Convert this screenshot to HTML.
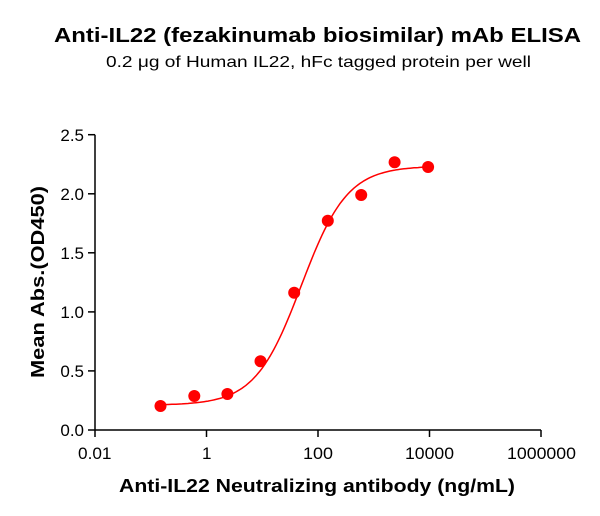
<!DOCTYPE html>
<html><head><style>
body{margin:0;background:#fff;}
svg{display:block;font-family:"Liberation Sans",Arial,sans-serif;}
</style></head><body>
<svg id="s" width="600" height="516" viewBox="0 0 600 516">
<text x="54" y="42" font-size="20" font-weight="bold" textLength="527" lengthAdjust="spacingAndGlyphs">Anti-IL22 (fezakinumab biosimilar) mAb ELISA</text>
<text x="106" y="67" font-size="16" textLength="425" lengthAdjust="spacingAndGlyphs">0.2 μg of Human IL22, hFc tagged protein per well</text>
<g stroke="#000" stroke-width="1.5" fill="none">
<line x1="95" y1="134.7" x2="95" y2="430"/>
<line x1="95" y1="430" x2="541" y2="430"/>
<line x1="88" y1="430" x2="95" y2="430"/>
<line x1="88" y1="370.9" x2="95" y2="370.9"/>
<line x1="88" y1="311.9" x2="95" y2="311.9"/>
<line x1="88" y1="252.8" x2="95" y2="252.8"/>
<line x1="88" y1="193.8" x2="95" y2="193.8"/>
<line x1="88" y1="134.7" x2="95" y2="134.7"/>
<line x1="95" y1="430" x2="95" y2="437"/>
<line x1="206.5" y1="430" x2="206.5" y2="437"/>
<line x1="318" y1="430" x2="318" y2="437"/>
<line x1="429.5" y1="430" x2="429.5" y2="437"/>
<line x1="541" y1="430" x2="541" y2="437"/>
</g>
<g font-size="17" text-anchor="end">
<text x="84" y="436">0.0</text>
<text x="84" y="377">0.5</text>
<text x="84" y="318">1.0</text>
<text x="84" y="259">1.5</text>
<text x="84" y="200">2.0</text>
<text x="84" y="141">2.5</text>
</g>
<g font-size="17">
<text x="78" y="459" textLength="33.5" lengthAdjust="spacingAndGlyphs">0.01</text>
<text x="202" y="459">1</text>
<text x="303" y="459" textLength="30" lengthAdjust="spacingAndGlyphs">100</text>
<text x="405" y="459" textLength="49" lengthAdjust="spacingAndGlyphs">10000</text>
<text x="507" y="459" textLength="69" lengthAdjust="spacingAndGlyphs">1000000</text>
</g>
<text x="119" y="492" font-size="18" font-weight="bold" textLength="396" lengthAdjust="spacingAndGlyphs">Anti-IL22 Neutralizing antibody (ng/mL)</text>
<text transform="translate(44,378) rotate(-90)" font-size="18" font-weight="bold" textLength="192" lengthAdjust="spacingAndGlyphs">Mean Abs.(OD450)</text>
<path id="c" fill="none" stroke="#f00" stroke-width="1.5"/>
<g fill="#f00">
<circle cx="160.5" cy="406" r="6"/>
<circle cx="194.3" cy="396" r="6"/>
<circle cx="227.4" cy="394" r="6"/>
<circle cx="260.5" cy="361.3" r="6"/>
<circle cx="294.2" cy="292.7" r="6"/>
<circle cx="327.8" cy="220.7" r="6"/>
<circle cx="361.2" cy="195" r="6"/>
<circle cx="394.6" cy="162.3" r="6"/>
<circle cx="428.1" cy="167" r="6"/>
</g>
</svg>
<script>
var d="";for(var px=160;px<=429;px+=2){var lx=-2+(px-95)/55.75;var v=0.21+(2.235-0.21)/(1+Math.pow(10,(1.7-lx)*1.05));var py=430-v*118.1;d+=(d?"L":"M")+px.toFixed(1)+","+py.toFixed(1);}
document.getElementById("c").setAttribute("d",d);
</script>
</body></html>
